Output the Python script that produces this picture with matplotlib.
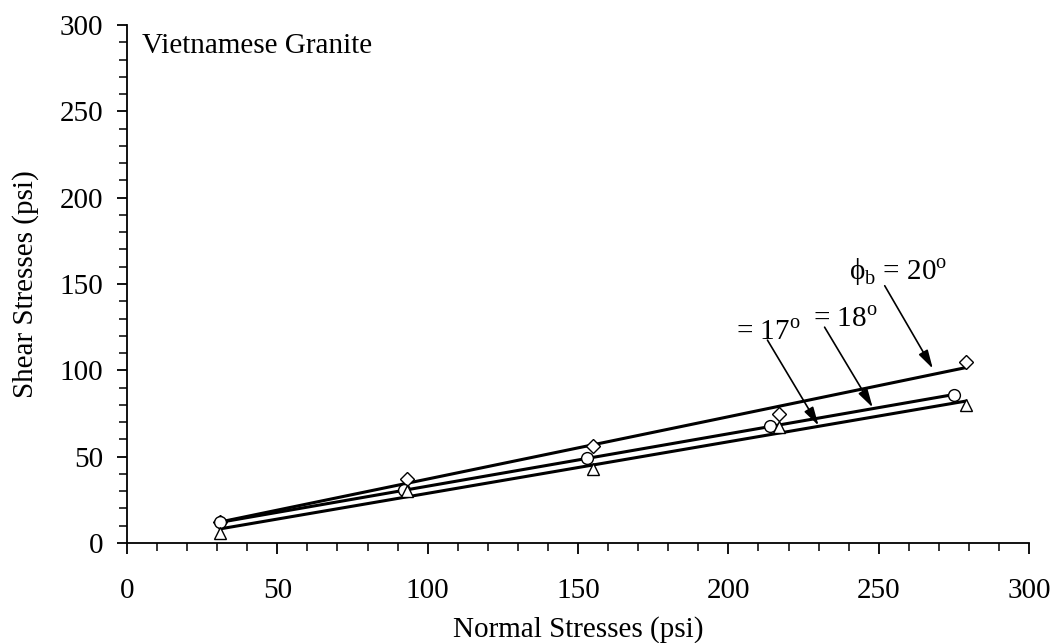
import numpy as np
import matplotlib
matplotlib.use("Agg")
from matplotlib import pyplot as plt
from matplotlib.ticker import MultipleLocator

plt.rcParams['font.family'] = ['Liberation Serif', 'DejaVu Serif']
plt.rcParams['mathtext.fontset'] = 'custom'
plt.rcParams['mathtext.rm'] = 'Liberation Serif'

# measured points (normal stress, shear stress) in psi
x_20 = [31, 93, 155, 217, 279]
y_20 = [12, 37, 56, 74.5, 105]

x_18 = [31, 92, 153, 214, 275]
y_18 = [12, 30.5, 49, 67.5, 86]

x_17 = [31, 93, 155, 217, 279]
y_17 = [6, 30, 43, 67, 80]

fs = 21

fig = plt.figure(figsize=(10.55, 6.43), dpi=100)
ax = fig.add_axes([0.1204, 0.1555, 0.855, 0.8056])

# data points, open markers
ax.plot(x_20, y_20, 'D', mfc='white', mec='black', ms=7.5, mew=1.0, zorder=3)
ax.plot(x_18, y_18, 'o', mfc='white', mec='black', ms=8.5, mew=1.0, zorder=3)
ax.plot(x_17, y_17, '^', mfc='white', mec='black', ms=9, mew=1.0, zorder=3)

# least squares lines through each set
for xs, ys in [(x_20, y_20), (x_18, y_18), (x_17, y_17)]:
    xs = np.array(xs)
    k, c = np.polyfit(xs, ys, 1)
    ax.plot([xs[0], xs[-1]], [k * xs[0] + c, k * xs[-1] + c], '-', color='black', lw=2.2, zorder=2)

ax.set_xlim(0, 300)
ax.set_ylim(0, 300)
ax.xaxis.set_major_locator(MultipleLocator(50))
ax.xaxis.set_minor_locator(MultipleLocator(10))
ax.yaxis.set_major_locator(MultipleLocator(50))
ax.yaxis.set_minor_locator(MultipleLocator(10))

for s in ['top', 'right']:
    ax.spines[s].set_visible(False)
for s in ['left', 'bottom']:
    ax.spines[s].set_linewidth(1.3)

ax.tick_params(axis='x', which='major', direction='out', length=8, width=1.3, labelsize=fs, pad=17)
ax.tick_params(axis='y', which='major', direction='out', length=7, width=1.3, labelsize=fs, pad=10)
ax.tick_params(axis='both', which='minor', direction='out', length=6, width=1.1)

ax.set_xlabel('Normal Stresses (psi)', fontsize=fs, labelpad=9)
ax.set_ylabel('Shear Stresses (psi)', fontsize=fs, labelpad=15)

ax.text(5, 288, 'Vietnamese Granite', fontsize=fs, va='center', ha='left')

# friction angle labels and arrows
ax.text(240, 157, r'ϕ$_\mathrm{b}$ = 20$^\mathrm{o}$', fontsize=fs, va='center', ha='left')
ax.text(228, 129, r'= 18$^\mathrm{o}$', fontsize=fs, va='center', ha='left')
ax.text(202.5, 121.5, r'= 17$^\mathrm{o}$', fontsize=fs, va='center', ha='left')

arrow = dict(arrowstyle='-|>,head_length=0.8,head_width=0.22', color='black', lw=1.2,
             mutation_scale=14, shrinkA=0, shrinkB=0)
ax.annotate('', xy=(268, 101), xytext=(252, 149), arrowprops=arrow)
ax.annotate('', xy=(248, 78.5), xytext=(232, 125), arrowprops=arrow)
ax.annotate('', xy=(230, 68), xytext=(213, 117.5), arrowprops=arrow)

fig.savefig('out.png', dpi=100)
